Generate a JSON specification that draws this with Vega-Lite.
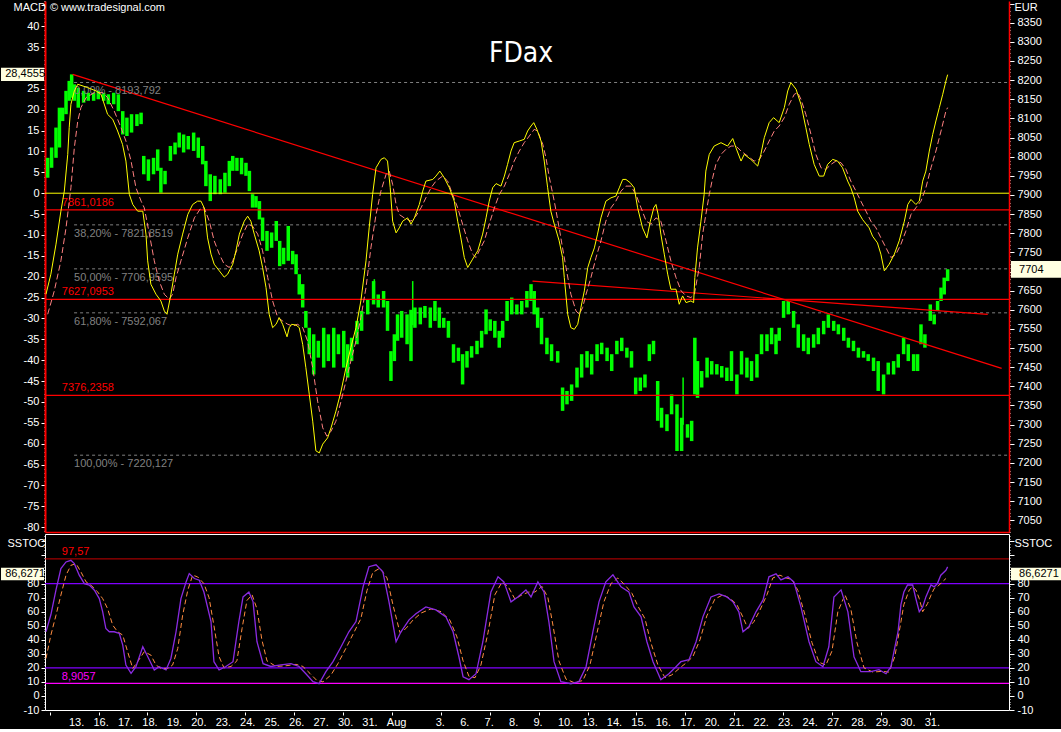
{
"$schema": "https://vega.github.io/schema/vega-lite/v6.json",
"background": "black",
"padding": 0,
"spacing": 0,
"config": {
  "view": {"stroke": null},
  "text": {"font": "Liberation Sans", "fontSize": 11},
  "axis": {"labelColor": "white", "labelFont": "Liberation Sans", "labelFontSize": 11, "tickColor": "white", "tickWidth": 1, "domain": false, "grid": false, "titleColor": "white", "titleFont": "Liberation Sans", "titleFontSize": 11, "titleFontWeight": "normal", "labelOverlap": false, "labelBound": false, "labelFlush": false}
},
"resolve": {"scale": {"x": "independent", "y": "independent"}},
"datasets": {
"days": [{"t":0,"l":"13."},{"t":1,"l":"16."},{"t":2,"l":"17."},{"t":3,"l":"18."},{"t":4,"l":"19."},{"t":5,"l":"20."},{"t":6,"l":"23."},{"t":7,"l":"24."},{"t":8,"l":"25."},{"t":9,"l":"26."},{"t":10,"l":"27."},{"t":11,"l":"30."},{"t":12,"l":"31."},{"t":13,"l":"Aug"},{"t":15,"l":"3."},{"t":16,"l":"6."},{"t":17,"l":"7."},{"t":18,"l":"8."},{"t":19,"l":"9."},{"t":20,"l":"10."},{"t":21,"l":"13."},{"t":22,"l":"14."},{"t":23,"l":"15."},{"t":24,"l":"16."},{"t":25,"l":"17."},{"t":26,"l":"20."},{"t":27,"l":"21."},{"t":28,"l":"22."},{"t":29,"l":"23."},{"t":30,"l":"24."},{"t":31,"l":"27."},{"t":32,"l":"28."},{"t":33,"l":"29."},{"t":34,"l":"30."},{"t":35,"l":"31."}],
"macd": [{"t":-0.90,"m":-24.2},{"t":-0.70,"m":-19.4},{"t":-0.49,"m":-12.2},{"t":-0.29,"m":-4.3},{"t":-0.15,"m":0.5},{"t":-0.01,"m":9.3},{"t":0.05,"m":15.7},{"t":0.12,"m":21.3},{"t":0.26,"m":24.5},{"t":0.40,"m":26.1},{"t":0.80,"m":25.3},{"t":1.15,"m":24.5},{"t":1.35,"m":23.7},{"t":1.62,"m":18.9},{"t":1.83,"m":17.7},{"t":2.03,"m":14.9},{"t":2.23,"m":11.7},{"t":2.37,"m":7.7},{"t":2.51,"m":-0.3},{"t":2.65,"m":-2.7},{"t":2.85,"m":-4.3},{"t":3.06,"m":-4.3},{"t":3.19,"m":-9.8},{"t":3.26,"m":-16.2},{"t":3.39,"m":-21.8},{"t":3.60,"m":-24.2},{"t":3.80,"m":-25.8},{"t":3.94,"m":-28.2},{"t":4.05,"m":-29.0},{"t":4.21,"m":-24.2},{"t":4.35,"m":-19.4},{"t":4.49,"m":-14.6},{"t":4.69,"m":-9.8},{"t":4.90,"m":-5.1},{"t":5.10,"m":-2.7},{"t":5.30,"m":-1.9},{"t":5.44,"m":-1.9},{"t":5.57,"m":-3.5},{"t":5.71,"m":-10.7},{"t":5.85,"m":-14.6},{"t":5.98,"m":-17.0},{"t":6.19,"m":-18.6},{"t":6.39,"m":-20.1},{"t":6.53,"m":-19.4},{"t":6.74,"m":-17.0},{"t":6.87,"m":-13.8},{"t":7.01,"m":-9.8},{"t":7.21,"m":-6.7},{"t":7.35,"m":-5.5},{"t":7.48,"m":-6.7},{"t":7.62,"m":-9.8},{"t":7.82,"m":-13.8},{"t":7.96,"m":-17.8},{"t":8.10,"m":-22.6},{"t":8.23,"m":-29.0},{"t":8.37,"m":-32.2},{"t":8.51,"m":-31.4},{"t":8.64,"m":-29.8},{"t":8.78,"m":-31.4},{"t":8.96,"m":-34.4},{"t":9.05,"m":-32.2},{"t":9.15,"m":-31.4},{"t":9.33,"m":-31.6},{"t":9.46,"m":-32.2},{"t":9.60,"m":-36.2},{"t":9.73,"m":-41.8},{"t":9.87,"m":-48.2},{"t":10.01,"m":-54.6},{"t":10.14,"m":-61.7},{"t":10.28,"m":-62.2},{"t":10.42,"m":-60.1},{"t":10.62,"m":-58.6},{"t":10.76,"m":-56.2},{"t":10.96,"m":-52.2},{"t":11.17,"m":-47.4},{"t":11.37,"m":-41.8},{"t":11.57,"m":-37.0},{"t":11.78,"m":-32.2},{"t":11.98,"m":-25.8},{"t":12.19,"m":-16.2},{"t":12.32,"m":-8.3},{"t":12.46,"m":-0.3},{"t":12.60,"m":6.1},{"t":12.80,"m":8.1},{"t":12.94,"m":8.5},{"t":13.07,"m":7.7},{"t":13.18,"m":1.3},{"t":13.28,"m":-6.7},{"t":13.42,"m":-9.5},{"t":13.55,"m":-8.3},{"t":13.69,"m":-6.7},{"t":13.89,"m":-5.9},{"t":14.03,"m":-7.4},{"t":14.17,"m":-5.9},{"t":14.37,"m":-2.7},{"t":14.51,"m":0.5},{"t":14.64,"m":2.9},{"t":14.92,"m":3.3},{"t":15.05,"m":4.1},{"t":15.21,"m":5.3},{"t":15.39,"m":3.7},{"t":15.60,"m":1.3},{"t":15.80,"m":-1.9},{"t":15.94,"m":-6.7},{"t":16.07,"m":-10.7},{"t":16.21,"m":-15.4},{"t":16.35,"m":-17.8},{"t":16.55,"m":-15.8},{"t":16.76,"m":-13.8},{"t":16.96,"m":-9.8},{"t":17.10,"m":-5.9},{"t":17.23,"m":-1.9},{"t":17.37,"m":1.3},{"t":17.51,"m":2.3},{"t":17.71,"m":1.7},{"t":17.85,"m":4.1},{"t":17.98,"m":6.9},{"t":18.12,"m":10.1},{"t":18.25,"m":12.1},{"t":18.46,"m":12.5},{"t":18.66,"m":12.9},{"t":18.80,"m":14.9},{"t":18.94,"m":16.1},{"t":19.05,"m":16.9},{"t":19.18,"m":15.3},{"t":19.35,"m":12.5},{"t":19.48,"m":7.7},{"t":19.62,"m":1.3},{"t":19.75,"m":-4.3},{"t":19.89,"m":-7.4},{"t":20.09,"m":-11.4},{"t":20.23,"m":-15.4},{"t":20.30,"m":-20.2},{"t":20.44,"m":-29.0},{"t":20.57,"m":-32.2},{"t":20.71,"m":-32.6},{"t":20.85,"m":-31.4},{"t":20.98,"m":-27.4},{"t":21.12,"m":-23.4},{"t":21.26,"m":-17.8},{"t":21.39,"m":-15.4},{"t":21.53,"m":-13.1},{"t":21.66,"m":-9.8},{"t":21.80,"m":-5.9},{"t":22.00,"m":-1.9},{"t":22.21,"m":-1.1},{"t":22.41,"m":-0.7},{"t":22.55,"m":1.3},{"t":22.69,"m":3.3},{"t":22.82,"m":3.3},{"t":23.00,"m":2.5},{"t":23.16,"m":1.3},{"t":23.30,"m":-3.5},{"t":23.50,"m":-8.3},{"t":23.68,"m":-10.7},{"t":23.82,"m":-6.7},{"t":23.96,"m":-3.5},{"t":24.05,"m":-2.7},{"t":24.14,"m":-5.1},{"t":24.25,"m":-9.8},{"t":24.39,"m":-14.6},{"t":24.53,"m":-19.4},{"t":24.66,"m":-23.0},{"t":24.87,"m":-23.0},{"t":25.00,"m":-26.6},{"t":25.14,"m":-24.6},{"t":25.28,"m":-26.2},{"t":25.48,"m":-25.8},{"t":25.59,"m":-26.2},{"t":25.64,"m":-20.2},{"t":25.75,"m":-13.1},{"t":25.89,"m":-6.7},{"t":26.02,"m":-0.3},{"t":26.09,"m":5.3},{"t":26.23,"m":9.3},{"t":26.43,"m":11.3},{"t":26.71,"m":12.1},{"t":26.98,"m":11.3},{"t":27.19,"m":13.1},{"t":27.32,"m":10.9},{"t":27.53,"m":7.7},{"t":27.66,"m":9.3},{"t":27.93,"m":8.1},{"t":28.21,"m":6.5},{"t":28.34,"m":9.3},{"t":28.48,"m":13.3},{"t":28.68,"m":16.9},{"t":28.86,"m":18.1},{"t":29.09,"m":16.9},{"t":29.30,"m":20.5},{"t":29.44,"m":24.5},{"t":29.57,"m":26.5},{"t":29.78,"m":24.9},{"t":29.98,"m":21.3},{"t":30.18,"m":15.7},{"t":30.32,"m":11.7},{"t":30.52,"m":6.9},{"t":30.73,"m":4.1},{"t":30.91,"m":4.1},{"t":31.07,"m":6.9},{"t":31.28,"m":8.1},{"t":31.48,"m":7.7},{"t":31.68,"m":6.1},{"t":31.89,"m":2.9},{"t":32.02,"m":1.3},{"t":32.16,"m":-1.1},{"t":32.30,"m":-4.3},{"t":32.50,"m":-6.3},{"t":32.77,"m":-8.3},{"t":32.91,"m":-10.3},{"t":33.11,"m":-11.9},{"t":33.25,"m":-14.6},{"t":33.39,"m":-18.6},{"t":33.59,"m":-17.0},{"t":33.80,"m":-14.6},{"t":34.00,"m":-11.4},{"t":34.21,"m":-6.7},{"t":34.35,"m":-2.7},{"t":34.48,"m":-1.5},{"t":34.68,"m":-2.7},{"t":34.82,"m":-1.9},{"t":34.96,"m":2.9},{"t":35.09,"m":5.3},{"t":35.23,"m":10.1},{"t":35.37,"m":14.1},{"t":35.50,"m":17.3},{"t":35.64,"m":20.5},{"t":35.78,"m":23.7},{"t":35.91,"m":26.9},{"t":35.98,"m":28.4}],
"sig": [{"t":-0.83,"m":-29.0},{"t":-0.56,"m":-23.4},{"t":-0.29,"m":-16.2},{"t":-0.08,"m":-8.3},{"t":0.12,"m":1.3},{"t":0.26,"m":10.9},{"t":0.40,"m":17.3},{"t":0.53,"m":20.5},{"t":0.74,"m":22.9},{"t":1.08,"m":24.1},{"t":1.42,"m":24.1},{"t":1.62,"m":22.9},{"t":1.89,"m":19.7},{"t":2.17,"m":15.7},{"t":2.37,"m":12.5},{"t":2.58,"m":7.7},{"t":2.78,"m":1.3},{"t":2.99,"m":-1.9},{"t":3.12,"m":-3.5},{"t":3.33,"m":-9.8},{"t":3.53,"m":-16.2},{"t":3.73,"m":-21.0},{"t":3.94,"m":-24.2},{"t":4.14,"m":-25.4},{"t":4.28,"m":-24.2},{"t":4.42,"m":-20.2},{"t":4.62,"m":-16.2},{"t":4.90,"m":-10.7},{"t":5.17,"m":-5.9},{"t":5.44,"m":-3.5},{"t":5.57,"m":-3.5},{"t":5.78,"m":-6.7},{"t":5.98,"m":-11.4},{"t":6.19,"m":-14.6},{"t":6.39,"m":-17.0},{"t":6.60,"m":-17.8},{"t":6.74,"m":-16.2},{"t":6.94,"m":-13.1},{"t":7.15,"m":-9.8},{"t":7.35,"m":-7.4},{"t":7.55,"m":-7.9},{"t":7.76,"m":-9.8},{"t":7.96,"m":-13.8},{"t":8.17,"m":-20.2},{"t":8.37,"m":-25.8},{"t":8.58,"m":-29.8},{"t":8.78,"m":-30.6},{"t":8.99,"m":-31.4},{"t":9.19,"m":-31.8},{"t":9.39,"m":-31.4},{"t":9.60,"m":-32.2},{"t":9.80,"m":-35.4},{"t":10.01,"m":-41.8},{"t":10.21,"m":-49.8},{"t":10.42,"m":-56.2},{"t":10.59,"m":-58.2},{"t":10.76,"m":-57.0},{"t":10.96,"m":-54.6},{"t":11.17,"m":-49.8},{"t":11.37,"m":-45.0},{"t":11.57,"m":-40.2},{"t":11.78,"m":-35.4},{"t":11.98,"m":-29.8},{"t":12.19,"m":-22.6},{"t":12.39,"m":-13.1},{"t":12.60,"m":-5.1},{"t":12.80,"m":0.5},{"t":13.01,"m":4.5},{"t":13.14,"m":5.3},{"t":13.28,"m":2.1},{"t":13.42,"m":-2.7},{"t":13.55,"m":-5.1},{"t":13.75,"m":-5.9},{"t":14.03,"m":-6.7},{"t":14.23,"m":-5.5},{"t":14.44,"m":-3.5},{"t":14.64,"m":-1.1},{"t":14.85,"m":1.3},{"t":15.05,"m":2.9},{"t":15.32,"m":4.1},{"t":15.53,"m":2.9},{"t":15.73,"m":-0.3},{"t":15.94,"m":-3.5},{"t":16.14,"m":-7.4},{"t":16.35,"m":-11.4},{"t":16.55,"m":-14.6},{"t":16.69,"m":-15.4},{"t":16.82,"m":-13.8},{"t":17.03,"m":-11.4},{"t":17.23,"m":-7.4},{"t":17.44,"m":-3.5},{"t":17.64,"m":-0.3},{"t":17.85,"m":1.7},{"t":18.05,"m":4.5},{"t":18.25,"m":7.7},{"t":18.46,"m":10.1},{"t":18.66,"m":12.1},{"t":18.87,"m":13.7},{"t":19.07,"m":15.3},{"t":19.21,"m":14.9},{"t":19.42,"m":11.7},{"t":19.55,"m":8.5},{"t":19.69,"m":3.7},{"t":19.89,"m":-1.9},{"t":20.09,"m":-8.3},{"t":20.23,"m":-13.1},{"t":20.37,"m":-17.8},{"t":20.57,"m":-24.2},{"t":20.78,"m":-28.2},{"t":20.91,"m":-29.0},{"t":21.05,"m":-27.4},{"t":21.19,"m":-24.2},{"t":21.39,"m":-20.2},{"t":21.60,"m":-15.4},{"t":21.80,"m":-11.4},{"t":22.00,"m":-6.7},{"t":22.21,"m":-3.5},{"t":22.41,"m":-1.9},{"t":22.62,"m":0.5},{"t":22.82,"m":1.7},{"t":23.03,"m":1.7},{"t":23.23,"m":-0.3},{"t":23.44,"m":-3.5},{"t":23.65,"m":-6.7},{"t":23.84,"m":-7.4},{"t":24.05,"m":-5.9},{"t":24.25,"m":-6.7},{"t":24.46,"m":-11.4},{"t":24.66,"m":-16.2},{"t":24.87,"m":-20.2},{"t":25.08,"m":-23.4},{"t":25.28,"m":-24.6},{"t":25.48,"m":-25.0},{"t":25.62,"m":-24.2},{"t":25.82,"m":-17.8},{"t":25.96,"m":-9.8},{"t":26.09,"m":-5.1},{"t":26.23,"m":-0.3},{"t":26.37,"m":3.7},{"t":26.50,"m":6.9},{"t":26.71,"m":9.3},{"t":26.91,"m":10.5},{"t":27.12,"m":11.3},{"t":27.32,"m":11.3},{"t":27.53,"m":10.1},{"t":27.80,"m":8.9},{"t":28.07,"m":7.7},{"t":28.28,"m":8.1},{"t":28.48,"m":10.1},{"t":28.68,"m":12.5},{"t":28.89,"m":14.9},{"t":29.09,"m":16.1},{"t":29.30,"m":18.1},{"t":29.50,"m":21.3},{"t":29.71,"m":23.7},{"t":29.85,"m":24.1},{"t":29.98,"m":22.5},{"t":30.18,"m":18.9},{"t":30.39,"m":14.1},{"t":30.59,"m":9.3},{"t":30.80,"m":6.1},{"t":31.00,"m":5.7},{"t":31.21,"m":6.9},{"t":31.41,"m":7.7},{"t":31.62,"m":7.3},{"t":31.82,"m":5.7},{"t":32.02,"m":2.9},{"t":32.23,"m":0.5},{"t":32.43,"m":-1.9},{"t":32.64,"m":-4.3},{"t":32.84,"m":-6.7},{"t":33.05,"m":-8.3},{"t":33.25,"m":-10.7},{"t":33.46,"m":-13.1},{"t":33.66,"m":-15.4},{"t":33.87,"m":-14.6},{"t":34.07,"m":-12.2},{"t":34.27,"m":-9.1},{"t":34.48,"m":-5.1},{"t":34.68,"m":-3.5},{"t":34.89,"m":-1.9},{"t":35.09,"m":1.3},{"t":35.30,"m":6.1},{"t":35.50,"m":10.1},{"t":35.71,"m":14.9},{"t":35.91,"m":19.7},{"t":35.98,"m":20.5}],
"px": [{"t":-0.83,"lo":7945,"hi":7997},{"t":-0.67,"lo":7971,"hi":8024},{"t":-0.49,"lo":7997,"hi":8076},{"t":-0.35,"lo":8024,"hi":8128},{"t":-0.22,"lo":8093,"hi":8128},{"t":-0.08,"lo":8111,"hi":8172},{"t":0.05,"lo":8146,"hi":8198},{"t":0.15,"lo":8154,"hi":8215},{"t":0.26,"lo":8146,"hi":8189},{"t":0.42,"lo":8128,"hi":8180},{"t":0.64,"lo":8141,"hi":8172},{"t":0.83,"lo":8146,"hi":8167},{"t":1.05,"lo":8146,"hi":8167},{"t":1.24,"lo":8150,"hi":8172},{"t":1.46,"lo":8146,"hi":8167},{"t":1.65,"lo":8137,"hi":8163},{"t":1.87,"lo":8137,"hi":8167},{"t":2.06,"lo":8119,"hi":8163},{"t":2.24,"lo":8058,"hi":8119},{"t":2.41,"lo":8054,"hi":8102},{"t":2.60,"lo":8063,"hi":8111},{"t":2.82,"lo":8080,"hi":8111},{"t":2.99,"lo":8085,"hi":8115},{"t":3.10,"lo":7954,"hi":8002},{"t":3.29,"lo":7937,"hi":7993},{"t":3.50,"lo":7954,"hi":7997},{"t":3.67,"lo":7963,"hi":8019},{"t":3.80,"lo":7906,"hi":7971},{"t":3.97,"lo":7928,"hi":7963},{"t":4.19,"lo":7989,"hi":8028},{"t":4.38,"lo":8006,"hi":8037},{"t":4.55,"lo":8024,"hi":8063},{"t":4.73,"lo":8011,"hi":8058},{"t":4.92,"lo":8019,"hi":8054},{"t":5.14,"lo":8015,"hi":8063},{"t":5.33,"lo":7997,"hi":8050},{"t":5.51,"lo":7980,"hi":8028},{"t":5.64,"lo":7923,"hi":7989},{"t":5.82,"lo":7884,"hi":7954},{"t":6.01,"lo":7902,"hi":7950},{"t":6.23,"lo":7902,"hi":7941},{"t":6.42,"lo":7906,"hi":7958},{"t":6.60,"lo":7923,"hi":7989},{"t":6.74,"lo":7963,"hi":8002},{"t":6.91,"lo":7963,"hi":7997},{"t":7.10,"lo":7954,"hi":7997},{"t":7.28,"lo":7950,"hi":7984},{"t":7.42,"lo":7910,"hi":7963},{"t":7.55,"lo":7867,"hi":7902},{"t":7.69,"lo":7867,"hi":7897},{"t":7.83,"lo":7836,"hi":7884},{"t":7.96,"lo":7780,"hi":7841},{"t":8.14,"lo":7754,"hi":7806},{"t":8.33,"lo":7762,"hi":7802},{"t":8.52,"lo":7780,"hi":7832},{"t":8.66,"lo":7714,"hi":7780},{"t":8.82,"lo":7719,"hi":7762},{"t":9.01,"lo":7728,"hi":7819},{"t":9.19,"lo":7719,"hi":7754},{"t":9.33,"lo":7693,"hi":7745},{"t":9.46,"lo":7640,"hi":7693},{"t":9.60,"lo":7606,"hi":7667},{"t":9.73,"lo":7553,"hi":7597},{"t":9.87,"lo":7484,"hi":7553},{"t":10.05,"lo":7431,"hi":7536},{"t":10.24,"lo":7475,"hi":7519},{"t":10.46,"lo":7449,"hi":7553},{"t":10.65,"lo":7466,"hi":7536},{"t":10.87,"lo":7449,"hi":7553},{"t":11.06,"lo":7484,"hi":7536},{"t":11.28,"lo":7449,"hi":7545},{"t":11.44,"lo":7423,"hi":7510},{"t":11.60,"lo":7466,"hi":7527},{"t":11.82,"lo":7510,"hi":7571},{"t":12.01,"lo":7545,"hi":7597},{"t":12.26,"lo":7588,"hi":7627},{"t":12.50,"lo":7614,"hi":7675},{"t":12.69,"lo":7606,"hi":7640},{"t":12.91,"lo":7606,"hi":7649},{"t":13.07,"lo":7545,"hi":7623},{"t":13.21,"lo":7414,"hi":7492},{"t":13.35,"lo":7466,"hi":7536},{"t":13.48,"lo":7519,"hi":7588},{"t":13.65,"lo":7527,"hi":7597},{"t":13.87,"lo":7510,"hi":7588},{"t":14.03,"lo":7466,"hi":7600},{"t":14.19,"lo":7553,"hi":7606},{"t":14.41,"lo":7562,"hi":7606},{"t":14.60,"lo":7579,"hi":7610},{"t":14.82,"lo":7553,"hi":7606},{"t":15.01,"lo":7571,"hi":7623},{"t":15.19,"lo":7553,"hi":7606},{"t":15.37,"lo":7553,"hi":7579},{"t":15.56,"lo":7527,"hi":7571},{"t":15.77,"lo":7462,"hi":7510},{"t":15.97,"lo":7466,"hi":7501},{"t":16.14,"lo":7405,"hi":7484},{"t":16.32,"lo":7449,"hi":7492},{"t":16.51,"lo":7475,"hi":7505},{"t":16.73,"lo":7484,"hi":7519},{"t":16.92,"lo":7501,"hi":7545},{"t":17.10,"lo":7536,"hi":7601},{"t":17.27,"lo":7545,"hi":7575},{"t":17.46,"lo":7527,"hi":7571},{"t":17.64,"lo":7501,"hi":7545},{"t":17.78,"lo":7527,"hi":7571},{"t":17.96,"lo":7571,"hi":7623},{"t":18.15,"lo":7588,"hi":7632},{"t":18.36,"lo":7588,"hi":7614},{"t":18.56,"lo":7588,"hi":7623},{"t":18.77,"lo":7606,"hi":7649},{"t":18.94,"lo":7623,"hi":7667},{"t":19.07,"lo":7588,"hi":7649},{"t":19.21,"lo":7553,"hi":7606},{"t":19.37,"lo":7510,"hi":7579},{"t":19.59,"lo":7484,"hi":7527},{"t":19.78,"lo":7466,"hi":7510},{"t":20.03,"lo":7462,"hi":7492},{"t":20.23,"lo":7336,"hi":7397},{"t":20.41,"lo":7353,"hi":7388},{"t":20.60,"lo":7362,"hi":7405},{"t":20.82,"lo":7397,"hi":7449},{"t":21.01,"lo":7423,"hi":7484},{"t":21.23,"lo":7449,"hi":7492},{"t":21.42,"lo":7431,"hi":7484},{"t":21.64,"lo":7466,"hi":7510},{"t":21.83,"lo":7484,"hi":7514},{"t":22.05,"lo":7466,"hi":7501},{"t":22.24,"lo":7440,"hi":7484},{"t":22.45,"lo":7484,"hi":7519},{"t":22.65,"lo":7492,"hi":7527},{"t":22.86,"lo":7475,"hi":7501},{"t":23.05,"lo":7449,"hi":7492},{"t":23.22,"lo":7379,"hi":7423},{"t":23.41,"lo":7388,"hi":7423},{"t":23.60,"lo":7397,"hi":7431},{"t":23.78,"lo":7466,"hi":7510},{"t":23.95,"lo":7484,"hi":7519},{"t":24.12,"lo":7310,"hi":7414},{"t":24.28,"lo":7292,"hi":7344},{"t":24.50,"lo":7283,"hi":7327},{"t":24.69,"lo":7327,"hi":7379},{"t":24.91,"lo":7231,"hi":7353},{"t":25.10,"lo":7231,"hi":7318},{"t":25.34,"lo":7266,"hi":7301},{"t":25.51,"lo":7257,"hi":7310},{"t":25.64,"lo":7379,"hi":7527},{"t":25.75,"lo":7370,"hi":7466},{"t":25.92,"lo":7397,"hi":7440},{"t":26.14,"lo":7423,"hi":7475},{"t":26.33,"lo":7431,"hi":7466},{"t":26.54,"lo":7431,"hi":7458},{"t":26.74,"lo":7423,"hi":7453},{"t":26.95,"lo":7414,"hi":7449},{"t":27.14,"lo":7414,"hi":7492},{"t":27.36,"lo":7379,"hi":7431},{"t":27.55,"lo":7431,"hi":7492},{"t":27.77,"lo":7423,"hi":7475},{"t":27.96,"lo":7414,"hi":7466},{"t":28.18,"lo":7423,"hi":7484},{"t":28.37,"lo":7484,"hi":7536},{"t":28.59,"lo":7492,"hi":7536},{"t":28.78,"lo":7510,"hi":7553},{"t":28.96,"lo":7484,"hi":7536},{"t":29.09,"lo":7519,"hi":7553},{"t":29.27,"lo":7579,"hi":7623},{"t":29.46,"lo":7588,"hi":7623},{"t":29.68,"lo":7553,"hi":7597},{"t":29.87,"lo":7501,"hi":7562},{"t":30.09,"lo":7492,"hi":7536},{"t":30.28,"lo":7484,"hi":7527},{"t":30.50,"lo":7501,"hi":7536},{"t":30.69,"lo":7510,"hi":7553},{"t":30.91,"lo":7536,"hi":7571},{"t":31.10,"lo":7553,"hi":7588},{"t":31.32,"lo":7545,"hi":7571},{"t":31.51,"lo":7536,"hi":7562},{"t":31.73,"lo":7519,"hi":7553},{"t":31.92,"lo":7501,"hi":7527},{"t":32.13,"lo":7492,"hi":7519},{"t":32.33,"lo":7475,"hi":7501},{"t":32.54,"lo":7475,"hi":7492},{"t":32.73,"lo":7466,"hi":7484},{"t":32.95,"lo":7440,"hi":7475},{"t":33.14,"lo":7388,"hi":7466},{"t":33.36,"lo":7379,"hi":7431},{"t":33.55,"lo":7431,"hi":7462},{"t":33.77,"lo":7431,"hi":7466},{"t":33.96,"lo":7449,"hi":7484},{"t":34.18,"lo":7484,"hi":7527},{"t":34.37,"lo":7466,"hi":7510},{"t":34.59,"lo":7440,"hi":7484},{"t":34.75,"lo":7440,"hi":7484},{"t":34.89,"lo":7510,"hi":7562},{"t":35.05,"lo":7501,"hi":7536},{"t":35.27,"lo":7571,"hi":7614},{"t":35.43,"lo":7562,"hi":7588},{"t":35.57,"lo":7597,"hi":7623},{"t":35.71,"lo":7623,"hi":7658},{"t":35.84,"lo":7640,"hi":7684},{"t":35.98,"lo":7675,"hi":7706}],
"spk": [{"t":14.10,"lo":7560,"hi":7675},{"t":12.53,"lo":7640,"hi":7680},{"t":25.16,"lo":7300,"hi":7423}],
"fib": [{"v":8193.792,"l":"0,00% - 8193,792"},{"v":7821.8519,"l":"38,20% - 7821,8519"},{"v":7706.9595,"l":"50,00% - 7706,9595"},{"v":7592.067,"l":"61,80% - 7592,067"},{"v":7220.127,"l":"100,00% - 7220,127"}],
"lvl": [{"v":7861.0186,"l":"7861,0186"},{"v":7627.0953,"l":"7627,0953"},{"v":7376.2358,"l":"7376,2358"}],
"trend": [{"k":"a","t":0.19,"v":8215},{"k":"a","t":38.19,"v":7447},{"k":"b","t":19.0,"v":7675},{"k":"b","t":37.62,"v":7588}],
"fast": [{"t":-0.90,"s":45.7},{"t":-0.70,"s":57.8},{"t":-0.49,"s":75.5},{"t":-0.29,"s":90.7},{"t":-0.08,"s":95.4},{"t":0.12,"s":96.6},{"t":0.26,"s":94.2},{"t":0.46,"s":86.0},{"t":0.67,"s":80.0},{"t":0.87,"s":78.9},{"t":1.08,"s":75.3},{"t":1.28,"s":69.3},{"t":1.42,"s":59.9},{"t":1.55,"s":48.0},{"t":1.69,"s":45.7},{"t":1.89,"s":45.7},{"t":2.10,"s":44.5},{"t":2.24,"s":36.2},{"t":2.37,"s":22.0},{"t":2.58,"s":16.1},{"t":2.78,"s":20.8},{"t":3.06,"s":35.0},{"t":3.33,"s":25.6},{"t":3.53,"s":18.5},{"t":3.73,"s":20.8},{"t":4.01,"s":18.5},{"t":4.21,"s":26.7},{"t":4.42,"s":45.7},{"t":4.62,"s":69.3},{"t":4.83,"s":81.2},{"t":4.96,"s":87.1},{"t":5.17,"s":83.6},{"t":5.37,"s":82.4},{"t":5.56,"s":74.0},{"t":5.85,"s":53.0},{"t":5.97,"s":24.4},{"t":6.18,"s":18.5},{"t":6.46,"s":21.0},{"t":6.75,"s":24.4},{"t":6.99,"s":53.0},{"t":7.16,"s":70.5},{"t":7.40,"s":74.0},{"t":7.57,"s":67.0},{"t":7.73,"s":38.6},{"t":7.98,"s":23.0},{"t":8.30,"s":21.0},{"t":8.71,"s":22.2},{"t":9.12,"s":23.0},{"t":9.45,"s":21.0},{"t":9.73,"s":15.8},{"t":10.02,"s":10.2},{"t":10.27,"s":8.7},{"t":10.55,"s":17.3},{"t":10.84,"s":24.4},{"t":11.17,"s":35.0},{"t":11.49,"s":45.7},{"t":11.78,"s":53.0},{"t":12.07,"s":77.7},{"t":12.31,"s":92.0},{"t":12.60,"s":93.4},{"t":12.88,"s":88.4},{"t":13.13,"s":67.0},{"t":13.42,"s":38.6},{"t":13.62,"s":45.7},{"t":13.95,"s":54.2},{"t":14.23,"s":58.5},{"t":14.64,"s":63.4},{"t":15.05,"s":61.3},{"t":15.46,"s":56.3},{"t":15.75,"s":45.7},{"t":15.99,"s":27.9},{"t":16.16,"s":13.7},{"t":16.40,"s":11.6},{"t":16.69,"s":15.8},{"t":16.97,"s":38.6},{"t":17.30,"s":74.1},{"t":17.59,"s":84.8},{"t":17.83,"s":81.2},{"t":18.12,"s":67.0},{"t":18.40,"s":70.5},{"t":18.73,"s":75.5},{"t":18.94,"s":70.5},{"t":19.22,"s":81.2},{"t":19.47,"s":74.1},{"t":19.67,"s":52.8},{"t":19.88,"s":24.4},{"t":20.16,"s":10.2},{"t":20.57,"s":8.7},{"t":20.90,"s":10.2},{"t":21.19,"s":20.8},{"t":21.47,"s":45.7},{"t":21.72,"s":67.0},{"t":22.00,"s":81.2},{"t":22.29,"s":86.2},{"t":22.62,"s":77.7},{"t":22.94,"s":74.1},{"t":23.15,"s":63.4},{"t":23.44,"s":56.3},{"t":23.68,"s":38.6},{"t":23.93,"s":24.4},{"t":24.25,"s":11.6},{"t":24.58,"s":15.8},{"t":24.87,"s":20.8},{"t":25.07,"s":24.4},{"t":25.40,"s":25.8},{"t":25.69,"s":38.6},{"t":25.97,"s":56.3},{"t":26.30,"s":70.5},{"t":26.63,"s":72.7},{"t":26.95,"s":70.5},{"t":27.20,"s":67.0},{"t":27.44,"s":59.9},{"t":27.61,"s":45.7},{"t":27.85,"s":49.2},{"t":28.14,"s":59.9},{"t":28.43,"s":68.4},{"t":28.67,"s":84.8},{"t":28.96,"s":86.9},{"t":29.16,"s":82.6},{"t":29.45,"s":84.8},{"t":29.69,"s":81.2},{"t":29.98,"s":63.4},{"t":30.31,"s":38.6},{"t":30.59,"s":24.4},{"t":30.88,"s":20.8},{"t":31.12,"s":35.0},{"t":31.33,"s":70.5},{"t":31.62,"s":75.5},{"t":31.90,"s":59.9},{"t":32.15,"s":27.9},{"t":32.43,"s":17.3},{"t":32.84,"s":17.3},{"t":33.17,"s":18.7},{"t":33.46,"s":15.8},{"t":33.66,"s":20.8},{"t":33.95,"s":45.7},{"t":34.07,"s":65.0},{"t":34.19,"s":74.0},{"t":34.34,"s":79.0},{"t":34.55,"s":79.0},{"t":34.68,"s":69.3},{"t":34.82,"s":60.0},{"t":34.96,"s":63.4},{"t":35.09,"s":70.5},{"t":35.30,"s":79.0},{"t":35.43,"s":77.7},{"t":35.56,"s":80.0},{"t":35.70,"s":86.0},{"t":35.91,"s":89.5},{"t":35.98,"s":91.9}],
"slow": [{"t":-0.90,"s":26.7},{"t":-0.70,"s":43.3},{"t":-0.49,"s":57.5},{"t":-0.29,"s":71.8},{"t":-0.08,"s":86.0},{"t":0.12,"s":93.0},{"t":0.33,"s":94.2},{"t":0.53,"s":88.3},{"t":0.74,"s":81.2},{"t":0.94,"s":78.9},{"t":1.21,"s":74.1},{"t":1.42,"s":69.3},{"t":1.62,"s":62.2},{"t":1.83,"s":50.4},{"t":2.03,"s":45.7},{"t":2.24,"s":43.3},{"t":2.44,"s":31.5},{"t":2.65,"s":19.6},{"t":2.85,"s":24.4},{"t":3.12,"s":31.5},{"t":3.39,"s":29.1},{"t":3.60,"s":22.0},{"t":3.80,"s":19.6},{"t":4.08,"s":19.6},{"t":4.28,"s":22.0},{"t":4.49,"s":33.8},{"t":4.69,"s":57.5},{"t":4.90,"s":75.3},{"t":5.10,"s":86.0},{"t":5.30,"s":84.8},{"t":5.56,"s":80},{"t":5.77,"s":70},{"t":5.97,"s":50},{"t":6.18,"s":28},{"t":6.38,"s":20},{"t":6.67,"s":21},{"t":6.91,"s":25},{"t":7.12,"s":48},{"t":7.32,"s":68},{"t":7.53,"s":72},{"t":7.73,"s":62},{"t":7.93,"s":40},{"t":8.14,"s":25},{"t":8.51,"s":21},{"t":8.92,"s":21.5},{"t":9.33,"s":22.5},{"t":9.61,"s":21},{"t":9.90,"s":16},{"t":10.18,"s":11},{"t":10.43,"s":10},{"t":10.76,"s":15},{"t":11.04,"s":23},{"t":11.37,"s":34},{"t":11.66,"s":44},{"t":11.98,"s":55},{"t":12.23,"s":75},{"t":12.47,"s":88},{"t":12.76,"s":91},{"t":13.05,"s":84},{"t":13.29,"s":65},{"t":13.58,"s":45},{"t":13.82,"s":48},{"t":14.11,"s":54},{"t":14.44,"s":59},{"t":14.85,"s":62},{"t":15.26,"s":60},{"t":15.62,"s":54},{"t":15.91,"s":42},{"t":16.16,"s":25},{"t":16.40,"s":14},{"t":16.65,"s":13},{"t":16.89,"s":22},{"t":17.18,"s":45},{"t":17.46,"s":72},{"t":17.75,"s":81},{"t":18.00,"s":78},{"t":18.28,"s":69},{"t":18.57,"s":72},{"t":18.85,"s":74},{"t":19.10,"s":74},{"t":19.39,"s":78},{"t":19.63,"s":70},{"t":19.84,"s":50},{"t":20.08,"s":25},{"t":20.37,"s":12},{"t":20.70,"s":9.5},{"t":21.06,"s":11},{"t":21.35,"s":22},{"t":21.64,"s":45},{"t":21.92,"s":67},{"t":22.21,"s":80},{"t":22.49,"s":84},{"t":22.78,"s":79},{"t":23.07,"s":73},{"t":23.31,"s":64},{"t":23.60,"s":55},{"t":23.84,"s":38},{"t":24.13,"s":22},{"t":24.42,"s":13},{"t":24.70,"s":15},{"t":25.03,"s":20},{"t":25.32,"s":24},{"t":25.56,"s":28},{"t":25.85,"s":40},{"t":26.13,"s":57},{"t":26.46,"s":69},{"t":26.79,"s":72},{"t":27.12,"s":69},{"t":27.36,"s":65},{"t":27.61,"s":56},{"t":27.81,"s":48},{"t":28.06,"s":53},{"t":28.30,"s":61},{"t":28.59,"s":72},{"t":28.83,"s":84},{"t":29.12,"s":86},{"t":29.37,"s":84},{"t":29.61,"s":83},{"t":29.86,"s":75},{"t":30.14,"s":58},{"t":30.43,"s":38},{"t":30.72,"s":24},{"t":31.00,"s":22},{"t":31.25,"s":32},{"t":31.49,"s":60},{"t":31.78,"s":72},{"t":32.02,"s":62},{"t":32.27,"s":38},{"t":32.56,"s":20},{"t":32.92,"s":17},{"t":33.29,"s":17.5},{"t":33.58,"s":17},{"t":33.82,"s":28},{"t":34.07,"s":52.8},{"t":34.19,"s":65},{"t":34.41,"s":75.5},{"t":34.55,"s":77.7},{"t":34.68,"s":75.5},{"t":34.82,"s":69.3},{"t":34.96,"s":60},{"t":35.16,"s":65.8},{"t":35.30,"s":71.8},{"t":35.43,"s":76.5},{"t":35.56,"s":77.7},{"t":35.76,"s":81.2},{"t":35.91,"s":83.6}]
},
"vconcat": [
{
  "width": 964, "height": 531,
  "resolve": {"scale": {"y": "independent"}, "axis": {"y": "independent"}},
  "layer": [
    {"layer": [
      {"data": {"name": "fib"}, "mark": {"type": "rule", "color": "#808080", "strokeDash": [3, 3], "strokeWidth": 1},
       "encoding": {"x": {"datum": 0.25, "type": "quantitative", "scale": {"domain": [-0.94, 38.49], "nice": false, "zero": false}, "axis": {"orient": "bottom", "labels": false, "ticks": false, "domain": true, "domainColor": "#ff0000", "domainWidth": 1.5, "title": null}},
                    "x2": {"datum": 38.49},
                    "y": {"field": "v", "type": "quantitative", "scale": {"domain": [7019.5, 8406.7], "nice": false, "zero": false},
                          "axis": {"orient": "right", "title": "EUR", "titleAngle": 0, "titleX": 5, "titleY": 6, "titleAlign": "left", "titleBaseline": "middle", "tickCount": 139, "labelExpr": "datum.value % 50 === 0 && datum.value <= 8350 && datum.value !== 7700 ? datum.value : ''", "labelFontSize": {"condition": {"test": "datum.value % 50 === 0 && datum.value <= 8350 && datum.value !== 7700", "value": 11}, "value": 0}, "tickSize": 5, "tickDash": {"condition": {"test": "datum.value % 50 === 0", "value": [5, 0]}, "value": [1, 6]}, "labelPadding": 3, "domain": true, "domainColor": "#ff0000", "domainWidth": 1.5, "minExtent": 53, "maxExtent": 53}}}},
      {"data": {"name": "px"}, "mark": {"type": "rule", "color": "#00ff00", "strokeWidth": 3.5},
       "encoding": {"x": {"field": "t", "type": "quantitative", "scale": {"domain": [-0.94, 38.49], "nice": false, "zero": false}},
                    "y": {"field": "lo", "type": "quantitative", "scale": {"domain": [7019.5, 8406.7], "nice": false, "zero": false}},
                    "y2": {"field": "hi"}}},
      {"data": {"name": "spk"}, "mark": {"type": "rule", "color": "#00ff00", "strokeWidth": 1.5},
       "encoding": {"x": {"field": "t", "type": "quantitative", "scale": {"domain": [-0.94, 38.49], "nice": false, "zero": false}},
                    "y": {"field": "lo", "type": "quantitative", "scale": {"domain": [7019.5, 8406.7], "nice": false, "zero": false}},
                    "y2": {"field": "hi"}}},
      {"data": {"name": "lvl"}, "mark": {"type": "rule", "color": "#ff0000", "strokeWidth": 1.3},
       "encoding": {"y": {"field": "v", "type": "quantitative", "scale": {"domain": [7019.5, 8406.7], "nice": false, "zero": false}}}},
      {"data": {"name": "trend"}, "mark": {"type": "line", "color": "#ff0000", "strokeWidth": 1.2},
       "encoding": {"x": {"field": "t", "type": "quantitative", "scale": {"domain": [-0.94, 38.49], "nice": false, "zero": false}},
                    "y": {"field": "v", "type": "quantitative", "scale": {"domain": [7019.5, 8406.7], "nice": false, "zero": false}},
                    "detail": {"field": "k"}}},
      {"data": {"name": "lvl"}, "mark": {"type": "text", "color": "#ff0000", "align": "left", "baseline": "middle", "dy": -7},
       "encoding": {"x": {"datum": -0.25, "type": "quantitative", "scale": {"domain": [-0.94, 38.49], "nice": false, "zero": false}},
                    "y": {"field": "v", "type": "quantitative", "scale": {"domain": [7019.5, 8406.7], "nice": false, "zero": false}},
                    "text": {"field": "l"}}},
      {"data": {"name": "fib"}, "mark": {"type": "text", "color": "#808080", "align": "left", "baseline": "middle", "dy": 9},
       "encoding": {"x": {"datum": 0.25, "type": "quantitative", "scale": {"domain": [-0.94, 38.49], "nice": false, "zero": false}},
                    "y": {"field": "v", "type": "quantitative", "scale": {"domain": [7019.5, 8406.7], "nice": false, "zero": false}},
                    "text": {"field": "l"}}},
      {"data": {"values": [{"s": "7704"}]}, "mark": {"type": "rect", "color": "#ffffe1"},
       "encoding": {"x": {"datum": 38.57, "type": "quantitative", "scale": {"domain": [-0.94, 38.49], "nice": false, "zero": false}},
                    "x2": {"datum": 40.65},
                    "y": {"datum": 7727.5, "type": "quantitative", "scale": {"domain": [7019.5, 8406.7], "nice": false, "zero": false}},
                    "y2": {"datum": 7684}}},
      {"data": {"values": [{"s": "7704"}]}, "mark": {"type": "text", "color": "#000000", "align": "left", "baseline": "middle"},
       "encoding": {"x": {"datum": 38.9, "type": "quantitative", "scale": {"domain": [-0.94, 38.49], "nice": false, "zero": false}},
                    "y": {"datum": 7704, "type": "quantitative", "scale": {"domain": [7019.5, 8406.7], "nice": false, "zero": false}},
                    "text": {"field": "s"}}},
      {"data": {"values": [{"s": "FDax"}]}, "mark": {"type": "text", "color": "#ffffff", "align": "center", "baseline": "middle", "fontSize": 28, "font": "Liberation Sans Narrow, DejaVu Sans Condensed, Liberation Sans"},
       "encoding": {"x": {"datum": 18.53, "type": "quantitative", "scale": {"domain": [-0.94, 38.49], "nice": false, "zero": false}},
                    "y": {"datum": 8267, "type": "quantitative", "scale": {"domain": [7019.5, 8406.7], "nice": false, "zero": false}},
                    "text": {"field": "s"}}},
      {"data": {"values": [{"s": "© www.tradesignal.com"}]}, "mark": {"type": "text", "color": "#ffffff", "align": "left", "baseline": "middle"},
       "encoding": {"x": {"datum": -0.74, "type": "quantitative", "scale": {"domain": [-0.94, 38.49], "nice": false, "zero": false}},
                    "y": {"datum": 8389.7, "type": "quantitative", "scale": {"domain": [7019.5, 8406.7], "nice": false, "zero": false}},
                    "text": {"field": "s"}}}
    ]},
    {"layer": [
      {"data": {"values": [{"z": 0}]}, "mark": {"type": "rule", "color": "#ffff00", "strokeWidth": 1},
       "encoding": {"y": {"field": "z", "type": "quantitative", "scale": {"domain": [-81.15, 46.04], "nice": false, "zero": false},
                          "axis": {"orient": "left", "title": "MACD", "titleAngle": 0, "titleX": -32, "titleY": 6, "titleAlign": "left", "titleBaseline": "middle", "tickCount": 127, "labelExpr": "datum.value % 5 === 0 && datum.value <= 40 && datum.value !== 30 ? datum.value : ''", "labelFontSize": {"condition": {"test": "datum.value % 5 === 0 && datum.value <= 40 && datum.value !== 30", "value": 11}, "value": 0}, "tickSize": 4, "tickDash": {"condition": {"test": "datum.value % 5 === 0", "value": [5, 0]}, "value": [1, 6]}, "labelPadding": 2, "domain": true, "domainColor": "#ff0000", "domainWidth": 2, "minExtent": 44, "maxExtent": 44}}}},
      {"data": {"name": "sig"}, "mark": {"type": "line", "color": "#ff8080", "strokeWidth": 1, "strokeDash": [6, 3]},
       "encoding": {"x": {"field": "t", "type": "quantitative", "scale": {"domain": [-0.94, 38.49], "nice": false, "zero": false}},
                    "y": {"field": "m", "type": "quantitative", "scale": {"domain": [-81.15, 46.04], "nice": false, "zero": false}}}},
      {"data": {"name": "macd"}, "mark": {"type": "line", "color": "#ffff00", "strokeWidth": 1},
       "encoding": {"x": {"field": "t", "type": "quantitative", "scale": {"domain": [-0.94, 38.49], "nice": false, "zero": false}},
                    "y": {"field": "m", "type": "quantitative", "scale": {"domain": [-81.15, 46.04], "nice": false, "zero": false}}}},
      {"data": {"values": [{"s": "28,4555"}]}, "mark": {"type": "rect", "color": "#ffffe1"},
       "encoding": {"x": {"datum": -2.74, "type": "quantitative", "scale": {"domain": [-0.94, 38.49], "nice": false, "zero": false}},
                    "x2": {"datum": -0.98},
                    "y": {"datum": 30.06, "type": "quantitative", "scale": {"domain": [-81.15, 46.04], "nice": false, "zero": false}},
                    "y2": {"datum": 26.87}}},
      {"data": {"values": [{"s": "28,4555"}]}, "mark": {"type": "text", "color": "#000000", "align": "right", "baseline": "middle"},
       "encoding": {"x": {"datum": -0.94, "type": "quantitative", "scale": {"domain": [-0.94, 38.49], "nice": false, "zero": false}},
                    "y": {"datum": 28.46, "type": "quantitative", "scale": {"domain": [-81.15, 46.04], "nice": false, "zero": false}},
                    "text": {"field": "s"}}}
    ]}
  ]
},
{
  "width": 964, "height": 176,
  "view": {"stroke": "#ffffff", "strokeWidth": 1},
  "resolve": {"scale": {"y": "independent"}, "axis": {"y": "independent"}},
  "layer": [
    {"layer": [
      {"data": {"values": [{"v": 97.57}]}, "mark": {"type": "rule", "color": "#c80000", "strokeWidth": 1},
       "encoding": {"y": {"field": "v", "type": "quantitative", "scale": {"domain": [-10, 115.3], "nice": false, "zero": false},
                          "axis": {"orient": "left", "title": "SSTOC", "titleAngle": 0, "titleX": -38, "titleY": 9, "titleAlign": "left", "titleBaseline": "middle", "tickCount": 62, "labelExpr": "datum.value % 10 === 0 && datum.value <= 80 ? datum.value : ''", "labelFontSize": {"condition": {"test": "datum.value % 10 === 0 && datum.value <= 80", "value": 11}, "value": 0}, "tickSize": 4, "tickDash": {"condition": {"test": "datum.value % 10 === 0", "value": [5, 0]}, "value": [1, 6]}, "labelPadding": 2, "domain": false, "minExtent": 44, "maxExtent": 44}}}},
      {"data": {"values": [{"v": 80}, {"v": 20}]}, "mark": {"type": "rule", "color": "#8000ff", "strokeWidth": 1.3},
       "encoding": {"y": {"field": "v", "type": "quantitative", "scale": {"domain": [-10, 115.3], "nice": false, "zero": false}}}},
      {"data": {"values": [{"v": 8.9057}]}, "mark": {"type": "rule", "color": "#ff00ff", "strokeWidth": 1.3},
       "encoding": {"y": {"field": "v", "type": "quantitative", "scale": {"domain": [-10, 115.3], "nice": false, "zero": false}}}},
      {"data": {"name": "slow"}, "mark": {"type": "line", "color": "#ff8c40", "strokeWidth": 1, "strokeDash": [5, 3]},
       "encoding": {"x": {"field": "t", "type": "quantitative", "scale": {"domain": [-0.94, 38.49], "nice": false, "zero": false},
                          "axis": {"orient": "bottom", "title": null, "labels": false, "values": [-0.75,0,0.25,1,1.25,2,2.25,3,3.25,4,4.25,5,5.25,6,6.25,7,7.25,8,8.25,9,9.25,10,10.25,11,11.25,12,12.25,13,13.25,14,14.25,15,15.25,16,16.25,17,17.25,18,18.25,19,19.25,20,20.25,21,21.25,22,22.25,23,23.25,24,24.25,25,25.25,26,26.25,27,27.25,28,28.25,29,29.25,30,30.25,31,31.25,32,32.25,33,33.25,34,34.25,35,35.25],
                                   "tickSize": 3, "offset": 2, "domain": false}},
                    "y": {"field": "s", "type": "quantitative", "scale": {"domain": [-10, 115.3], "nice": false, "zero": false}}}},
      {"data": {"name": "fast"}, "mark": {"type": "line", "color": "#8a2be2", "strokeWidth": 1.3},
       "encoding": {"x": {"field": "t", "type": "quantitative", "scale": {"domain": [-0.94, 38.49], "nice": false, "zero": false}},
                    "y": {"field": "s", "type": "quantitative", "scale": {"domain": [-10, 115.3], "nice": false, "zero": false}}}},
      {"data": {"name": "days"}, "mark": {"type": "text", "color": "#ffffff", "align": "left", "baseline": "middle", "dx": 1, "fontSize": 11},
       "encoding": {"x": {"field": "t", "type": "quantitative", "scale": {"domain": [-0.94, 38.49], "nice": false, "zero": false}},
                    "y": {"datum": -19.6, "type": "quantitative", "scale": {"domain": [-10, 115.3], "nice": false, "zero": false}},
                    "text": {"field": "l"}}},
      {"data": {"values": [{"v": 97.57, "l": "97,57"}]}, "mark": {"type": "text", "color": "#ff0000", "align": "left", "baseline": "middle", "dy": -7},
       "encoding": {"x": {"datum": -0.25, "type": "quantitative", "scale": {"domain": [-0.94, 38.49], "nice": false, "zero": false}},
                    "y": {"field": "v", "type": "quantitative", "scale": {"domain": [-10, 115.3], "nice": false, "zero": false}},
                    "text": {"field": "l"}}},
      {"data": {"values": [{"v": 8.9057, "l": "8,9057"}]}, "mark": {"type": "text", "color": "#ff00ff", "align": "left", "baseline": "middle", "dy": -6},
       "encoding": {"x": {"datum": -0.25, "type": "quantitative", "scale": {"domain": [-0.94, 38.49], "nice": false, "zero": false}},
                    "y": {"field": "v", "type": "quantitative", "scale": {"domain": [-10, 115.3], "nice": false, "zero": false}},
                    "text": {"field": "l"}}},
      {"data": {"values": [{"s": "86,6271"}]}, "mark": {"type": "rect", "color": "#ffffe1"},
       "encoding": {"x": {"datum": -2.74, "type": "quantitative", "scale": {"domain": [-0.94, 38.49], "nice": false, "zero": false}},
                    "x2": {"datum": -0.98},
                    "y": {"datum": 91.2, "type": "quantitative", "scale": {"domain": [-10, 115.3], "nice": false, "zero": false}},
                    "y2": {"datum": 82.4}}},
      {"data": {"values": [{"s": "86,6271"}]}, "mark": {"type": "text", "color": "#000000", "align": "right", "baseline": "middle"},
       "encoding": {"x": {"datum": -0.94, "type": "quantitative", "scale": {"domain": [-0.94, 38.49], "nice": false, "zero": false}},
                    "y": {"datum": 86.8, "type": "quantitative", "scale": {"domain": [-10, 115.3], "nice": false, "zero": false}},
                    "text": {"field": "s"}}}
    ]},
    {"layer": [
      {"data": {"values": [{"s": "86,6271"}]}, "mark": {"type": "rect", "color": "#ffffe1"},
       "encoding": {"x": {"datum": 38.57, "type": "quantitative", "scale": {"domain": [-0.94, 38.49], "nice": false, "zero": false}},
                    "x2": {"datum": 40.65},
                    "y": {"datum": 91.2, "type": "quantitative", "scale": {"domain": [-10, 115.3], "nice": false, "zero": false},
                          "axis": {"orient": "right", "title": "SSTOC", "titleAngle": 0, "titleX": 5, "titleY": 9, "titleAlign": "left", "titleBaseline": "middle", "tickCount": 62, "labelExpr": "datum.value % 10 === 0 && datum.value <= 80 ? datum.value : ''", "labelFontSize": {"condition": {"test": "datum.value % 10 === 0 && datum.value <= 80", "value": 11}, "value": 0}, "tickSize": 5, "tickDash": {"condition": {"test": "datum.value % 10 === 0", "value": [5, 0]}, "value": [1, 6]}, "labelPadding": 3, "domain": false, "minExtent": 53, "maxExtent": 53}},
                    "y2": {"datum": 82.4}}},
      {"data": {"values": [{"s": "86,6271"}]}, "mark": {"type": "text", "color": "#000000", "align": "left", "baseline": "middle"},
       "encoding": {"x": {"datum": 38.9, "type": "quantitative", "scale": {"domain": [-0.94, 38.49], "nice": false, "zero": false}},
                    "y": {"datum": 86.8, "type": "quantitative", "scale": {"domain": [-10, 115.3], "nice": false, "zero": false}},
                    "text": {"field": "s"}}}
    ]}
  ]
}
]
}
